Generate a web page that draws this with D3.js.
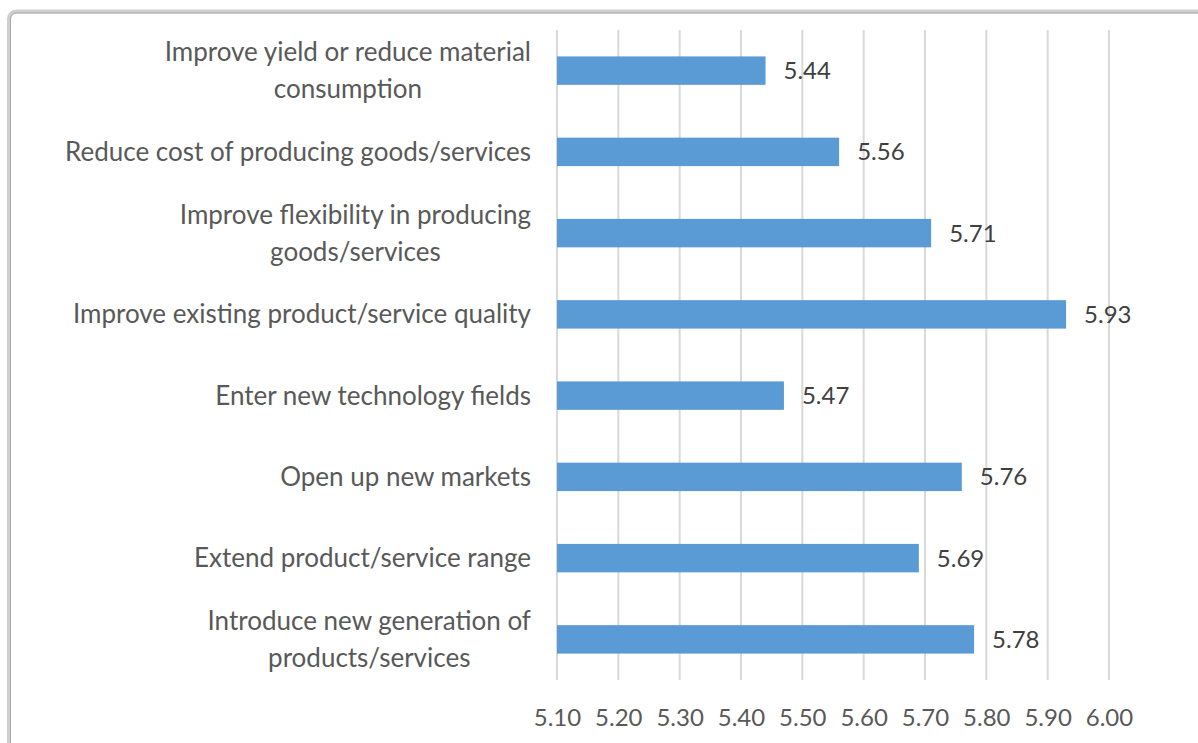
<!DOCTYPE html>
<html>
<head>
<meta charset="utf-8">
<script src="https://cdn.jsdelivr.net/npm/d3@7"></script>
<style>
  html, body { margin: 0; padding: 0; background: #ffffff; }
  svg { display: block; }
  text { font-family: Lato, "Open Sans", sans-serif; }
</style>
</head>
<body>
<svg id="chart" width="1198" height="743"></svg>
<script>
// Categories, top to bottom; "\n" marks a line break in the label
const categories = [
  "Improve yield or reduce material\nconsumption",
  "Reduce cost of producing goods/services",
  "Improve flexibility in producing\ngoods/services",
  "Improve existing product/service quality",
  "Enter new technology fields",
  "Open up new markets",
  "Extend product/service range",
  "Introduce new generation of\nproducts/services"
];
const values = [5.44, 5.56, 5.71, 5.93, 5.47, 5.76, 5.69, 5.78];
const tickValues = [5.10, 5.20, 5.30, 5.40, 5.50, 5.60, 5.70, 5.80, 5.90, 6.00];
const xDomain = [5.10, 6.00];

const svg = d3.select("#chart");
const W = 1198, H = 743;
const margin = { left: 557, right: 89, top: 30, bottom: 63 };

// Outer frame with rounded corner (cropped at right and bottom)
svg.append("rect")
  .attr("x", 9).attr("y", 11.5)
  .attr("width", 1210).attr("height", 800)
  .attr("rx", 7)
  .attr("fill", "none")
  .attr("stroke", "#cfcfcf")
  .attr("stroke-width", 4);
svg.append("rect")
  .attr("x", 10.5).attr("y", 13)
  .attr("width", 1210).attr("height", 800)
  .attr("rx", 6)
  .attr("fill", "none")
  .attr("stroke", "#a8a8a8")
  .attr("stroke-width", 1);

const x = d3.scaleLinear()
  .domain(xDomain)
  .range([margin.left, W - margin.right]);

const y = d3.scaleBand()
  .domain(categories)
  .range([margin.top, H - margin.bottom])
  .paddingInner(0.65)
  .paddingOuter(0.325);

// Vertical gridlines
svg.append("g")
  .selectAll("line")
  .data(tickValues)
  .join("line")
  .attr("x1", d => x(d)).attr("x2", d => x(d))
  .attr("y1", margin.top).attr("y2", H - margin.bottom)
  .attr("stroke", "#d9d9d9")
  .attr("stroke-width", 2);

// Bars
svg.append("g")
  .selectAll("rect")
  .data(values)
  .join("rect")
  .attr("x", x(xDomain[0]))
  .attr("y", (d, i) => y(categories[i]))
  .attr("width", d => x(d) - x(xDomain[0]))
  .attr("height", y.bandwidth())
  .attr("fill", "#5b9bd5");

// Value labels
svg.append("g")
  .selectAll("text")
  .data(values)
  .join("text")
  .attr("x", d => x(d) + 18)
  .attr("y", (d, i) => y(categories[i]) + y.bandwidth() / 2)
  .attr("dy", "0.35em")
  .attr("font-size", 24)
  .attr("fill", "#404040")
  .text(d => d.toFixed(2));

// X axis tick labels
const xAxis = d3.axisBottom(x)
  .tickValues(tickValues)
  .tickFormat(d3.format(".2f"))
  .tickSize(0)
  .tickPadding(0);
const gx = svg.append("g")
  .attr("transform", `translate(0, ${H - margin.bottom})`)
  .call(xAxis);
gx.select(".domain").remove();
gx.selectAll("text")
  .attr("y", 38)
  .attr("dy", "0.35em")
  .attr("font-size", 24)
  .attr("font-family", "Lato, 'Open Sans', sans-serif")
  .attr("fill", "#595959");

// Category labels: each block right-aligned to the axis, lines centred within it
const labelRight = 531;
const lineGap = 37;
const gLabels = svg.append("g");
categories.forEach((c, i) => {
  const lines = c.split("\n");
  const cy = y(c) + y.bandwidth() / 2;
  const t = gLabels.append("text")
    .attr("font-size", 26)
    .attr("fill", "#595959")
    .attr("text-anchor", "middle");
  lines.forEach((ln, j) => {
    t.append("tspan")
      .attr("y", cy + (j - (lines.length - 1) / 2) * lineGap)
      .attr("dy", "0.35em")
      .text(ln);
  });
  const widths = t.selectAll("tspan").nodes().map(n => n.getComputedTextLength());
  const maxW = d3.max(widths);
  t.selectAll("tspan").attr("x", labelRight - maxW / 2);
});
</script>
</body>
</html>
